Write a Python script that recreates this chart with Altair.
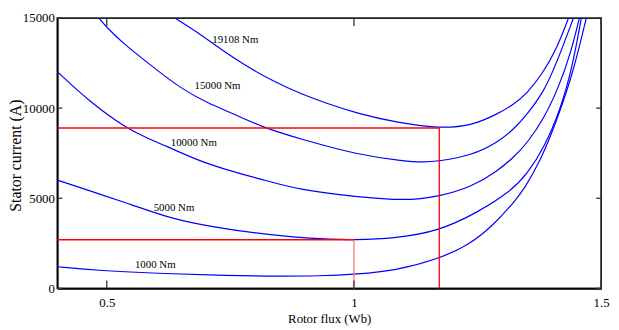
import altair as alt
import pandas as pd

# ---- data ----
series_names = ["19108 Nm", "15000 Nm", "10000 Nm", "5000 Nm", "1000 Nm"]

flux_19108 = [0.638, 0.684, 0.73, 0.784, 0.838, 0.89, 0.944, 1.004, 1.09, 1.17, 1.238, 1.29, 1.324, 1.35, 1.38, 1.41, 1.434]
cur_19108 = [15000, 14208, 13279, 12295, 11475, 10820, 10273, 9727, 9180, 8880, 9016, 9672, 10219, 10820, 11858, 13279, 15000]

flux_15000 = [0.484, 0.5, 0.53, 0.598, 0.65, 0.704, 0.758, 0.818, 0.89, 1.004, 1.104, 1.14, 1.17, 1.238, 1.29, 1.324, 1.35, 1.384, 1.41, 1.444]
cur_15000 = [15000, 14481, 13661, 12186, 11093, 10273, 9672, 8907, 8306, 7432, 7049, 7000, 7049, 7377, 8087, 8852, 9650, 10900, 12500, 15000]

flux_10000 = [0.40, 0.464, 0.538, 0.584, 0.618, 0.684, 0.738, 0.818, 0.89, 1.004, 1.104, 1.17, 1.238, 1.29, 1.324, 1.35, 1.384, 1.414, 1.438, 1.456]
cur_10000 = [12022, 10383, 8907, 8306, 7924, 7104, 6612, 6011, 5465, 5082, 4863, 5082, 5628, 6500, 7300, 8050, 9400, 11150, 13000, 15000]

flux_5000 = [0.40, 0.484, 0.55, 0.618, 0.684, 0.784, 0.918, 1.004, 1.084, 1.17, 1.25, 1.318, 1.35, 1.384, 1.418, 1.442, 1.46]
cur_5000 = [6011, 5250, 4645, 3989, 3552, 3115, 2732, 2680, 2787, 3169, 4208, 5400, 6339, 7760, 9946, 12300, 15000]

flux_1000 = [0.40, 0.484, 0.618, 0.75, 0.818, 0.938, 1.004, 1.084, 1.17, 1.23, 1.284, 1.324, 1.344, 1.378, 1.41, 1.444, 1.47]
cur_1000 = [1202, 984, 820, 710, 680, 690, 790, 984, 1639, 2350, 3552, 4800, 5500, 7104, 9290, 12022, 15000]

label_text = ["19108 Nm", "15000 Nm", "10000 Nm", "5000 Nm", "1000 Nm"]
label_flux = [0.76, 0.724, 0.676, 0.636, 0.598]
label_cur = [13770, 11202, 8087, 4481, 1311]

# red operating-point guide lines
guide_flux = [1.1726, 1.0]
guide_cur = [8900, 2700]
guide_color = ["#ff0000", "#f27a7a"]

x_ticks = [0.5, 1.0, 1.5]
y_ticks = [0, 5000, 10000, 15000]

# ---- tables ----
curve_data = {
    "19108 Nm": (flux_19108, cur_19108),
    "15000 Nm": (flux_15000, cur_15000),
    "10000 Nm": (flux_10000, cur_10000),
    "5000 Nm": (flux_5000, cur_5000),
    "1000 Nm": (flux_1000, cur_1000),
}
rows = []
for name in series_names:
    fx, cy = curve_data[name]
    for a, b in zip(fx, cy):
        rows.append({"series": name, "flux": a, "current": b})
df = pd.DataFrame(rows)

labels_df = pd.DataFrame({"text": label_text, "flux": label_flux, "current": label_cur})
h_df = pd.DataFrame({"flux": [0.4, 0.4], "x1": guide_flux, "current": guide_cur, "c": ["#ff0000", "#ff0000"]})
v_df = pd.DataFrame({"flux": guide_flux, "current": [0, 0], "y1": guide_cur, "c": guide_color})
xt_df = pd.DataFrame({"flux": x_ticks})
yt_df = pd.DataFrame({"current": y_ticks})

W, H = 551, 274
FONT = "Liberation Serif, Times New Roman, serif"
xs = alt.Scale(domain=[0.4, 1.5], nice=False, zero=False)
ys = alt.Scale(domain=[0, 15000], nice=False)

x_axis = alt.Axis(title="Rotor flux (Wb)", values=x_ticks, format="~g", ticks=False, tickSize=0,
                  labelFlush=False, grid=False, labelPadding=8, titlePadding=4,
                  labelFontSize=13, titleFontSize=13)
y_axis = alt.Axis(title="Stator current (A)", values=y_ticks, format="d", ticks=False, tickSize=0,
                  grid=False, labelPadding=3, labelFontSize=13, titleFontSize=16,
                  titleX=-42, titleY=H / 2 + 2, titleAngle=270, titleAlign="center", titleBaseline="middle")


def X():
    return alt.X("flux:Q", scale=xs, axis=x_axis, title="Rotor flux (Wb)")


def Y():
    return alt.Y("current:Q", scale=ys, axis=y_axis, title="Stator current (A)")


lines = alt.Chart(df).mark_line(color="#0000ff", strokeWidth=1.2, clip=True, interpolate="basis").encode(
    x=X(), y=Y(), detail="series:N"
)

h_rules = alt.Chart(h_df).mark_rule(strokeWidth=1.3).encode(
    x=X(), x2="x1:Q", y=Y(), color=alt.Color("c:N", scale=None),
)
v_rules = alt.Chart(v_df).mark_rule(strokeWidth=1.3).encode(
    x=X(), y=Y(), y2="y1:Q", color=alt.Color("c:N", scale=None),
)

tick_color = "#333333"
xt_bottom = alt.Chart(xt_df).mark_rule(color=tick_color, strokeWidth=1.3).encode(
    x=X(), y=alt.value(H), y2=alt.value(H - 8)
)
xt_top = alt.Chart(xt_df).mark_rule(color=tick_color, strokeWidth=1.3).encode(
    x=X(), y=alt.value(0), y2=alt.value(8)
)
yt_left = alt.Chart(yt_df).mark_rule(color=tick_color, strokeWidth=1.3).encode(
    y=Y(), x=alt.value(0), x2=alt.value(5)
)
yt_right = alt.Chart(yt_df).mark_rule(color=tick_color, strokeWidth=1.3).encode(
    y=Y(), x=alt.value(W), x2=alt.value(W - 5)
)

texts = alt.Chart(labels_df).mark_text(font=FONT, fontSize=11, color="black").encode(
    x=X(), y=Y(), text="text:N",
)

chart = (
    alt.layer(lines, h_rules, v_rules, xt_bottom, xt_top, yt_left, yt_right, texts)
    .properties(
        width=W, height=H,
        autosize=alt.AutoSizeParams(type="none"),
        padding={"left": 50, "top": 8, "right": 10, "bottom": 42},
        background="white",
    )
    .configure_view(stroke="#222222", strokeWidth=1.8)
    .configure_axis(
        labelFont=FONT, titleFont=FONT, labelColor="black", titleColor="black",
        titleFontWeight="normal", domainColor="black", domainWidth=1.5,
    )
)

chart.save("out.html", embed_options={"renderer": "svg", "actions": False})
